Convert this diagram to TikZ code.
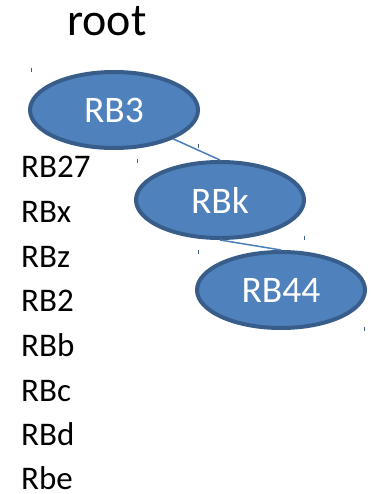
\documentclass[tikz,border=0pt]{standalone}
\usepackage{fontspec}
\setmainfont{Carlito}
\usetikzlibrary{shapes.geometric}
\definecolor{bfill}{HTML}{4F81BD}
\definecolor{bdraw}{HTML}{385D8A}
\definecolor{bline}{HTML}{4A7EBB}
\begin{document}
\begin{tikzpicture}[x=1pt,y=-1pt,
  rb/.style={ellipse,fill=bfill,draw=bdraw,line width=4pt,inner sep=0pt,
    minimum width=168pt,minimum height=76pt,text=white,font=\fontsize{37.5}{40}\selectfont},
  lst/.style={anchor=base west,inner sep=0pt,font=\fontsize{33}{40}\selectfont},
  conn/.style={draw=bline,line width=1.5pt},
  tick/.style={draw=bdraw,line width=0.8pt}]
\useasboundingbox (0,0) rectangle (370,494);
\node[anchor=base,inner sep=0pt,font=\fontsize{46}{50}\selectfont] (root) at (107,36) {root};
\node[rb] (rb3) at (114,110) {RB3};
\node[rb] (rbk) at (220,200) {RBk};
\node[rb] (rb44) at (281,290) {RB44};
\draw[conn] (rb3.-26) -- (rbk.north);
\draw[conn] (rbk.south) -- (rb44.north);
\node[lst] (l1) at (21,178) {RB27};
\node[lst] (l2) at (21,222.6) {RBx};
\node[lst] (l3) at (21,267.2) {RBz};
\node[lst] (l4) at (21,311.8) {RB2};
\node[lst] (l5) at (21,356.4) {RBb};
\node[lst] (l6) at (21,401) {RBc};
\node[lst] (l7) at (21,445.6) {RBd};
\node[lst] (l8) at (21,489.5) {Rbe};
\draw[tick] (31,68) -- (31,72);
\draw[tick] (198,144) -- (198,148);
\draw[tick] (137,159) -- (137,163);
\draw[tick] (304,236) -- (304,240);
\draw[tick] (198,250) -- (198,254);
\draw[tick] (364,327) -- (364,331);
\end{tikzpicture}
\end{document}
